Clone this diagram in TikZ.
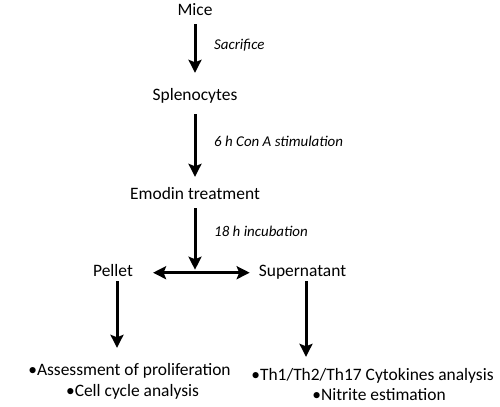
\documentclass[tikz,border=0pt]{standalone}
\usepackage{fontspec}
\setmainfont{Carlito}
\usetikzlibrary{arrows.meta}
\begin{document}
\begin{tikzpicture}[x=1bp,y=-1bp,
  lbl/.style={anchor=base,inner sep=0pt,text height=12bp,text depth=4bp,font=\fontsize{17.5}{20}\selectfont},
  note/.style={anchor=base west,inner sep=0pt,font=\fontsize{15}{18}\selectfont\itshape},
  arr/.style={line width=3bp,-{Stealth[width=13bp,length=13bp,inset=2.5bp]}},
  dbl/.style={line width=3bp,{Stealth[width=13bp,length=13bp,inset=2.5bp]}-{Stealth[width=13bp,length=13bp,inset=2.5bp]}}]
\useasboundingbox (0,0) rectangle (500,406);
\node[lbl] (mice) at (195,15.7) {Mice};
\node[lbl] (splen) at (195,100.7) {Splenocytes};
\node[lbl] (emodin) at (195,199.3) {Emodin treatment};
\node[lbl] (pellet) at (113,276) {Pellet};
\node[lbl] (super) at (302.5,276) {Supernatant};
\node[lbl] (assess) at (129.5,375) {•Assessment of proliferation};
\node[lbl] (cell) at (132.5,396.7) {•Cell cycle analysis};
\node[lbl] (th) at (372.5,380) {•Th1/Th2/Th17 Cytokines analysis};
\node[lbl] (nitrite) at (379,400.7) {•Nitrite estimation};
\node[note] (n1) at (214,49) {Sacrifice};
\node[note] (n2) at (214,146.5) {6 h Con A stimulation};
\node[note] (n3) at (214,236.7) {18 h incubation};
\coordinate (junc) at (195,272.7);
\coordinate (pl) at (117,281);
\coordinate (pr) at (306,281);
\draw[arr,shorten <=4.3bp,shorten >=15.7bp] (mice.south) -- (splen.north);
\draw[arr,shorten <=9.3bp,shorten >=10.3bp] (splen.south) -- (emodin.north);
\draw[arr,shorten <=4.7bp,shorten >=3bp] (emodin.south) -- (junc);
\draw[dbl,shorten <=20bp,shorten >=9bp] (pellet.east |- junc) -- (super.west |- junc);
\draw[arr,shorten >=15bp] (pl) -- (pl |- assess.north);
\draw[arr,shorten >=11bp] (pr) -- (pr |- th.north);
\end{tikzpicture}
\end{document}
